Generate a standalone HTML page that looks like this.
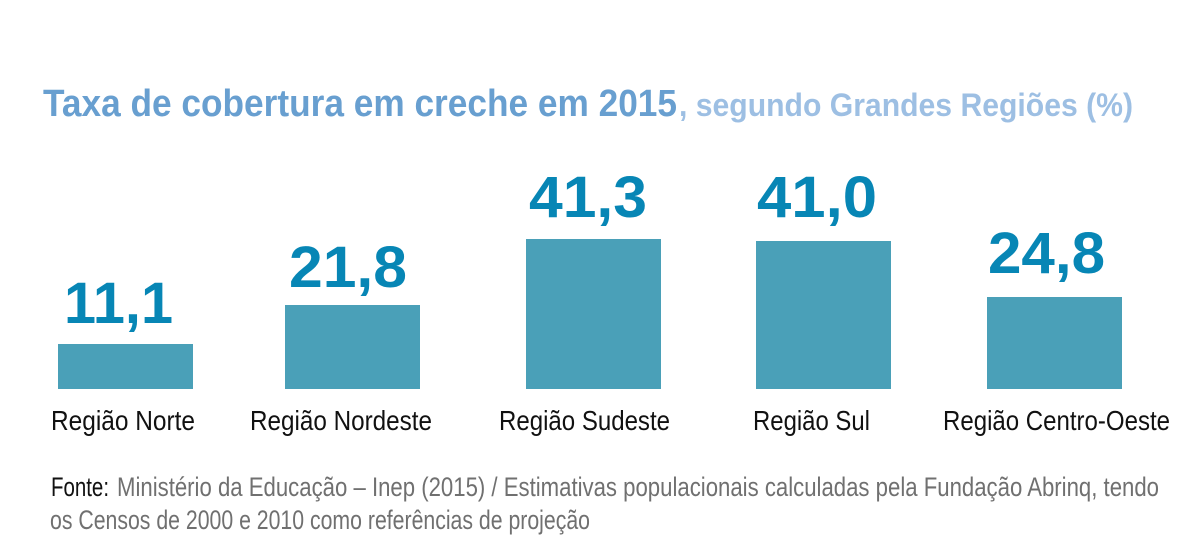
<!DOCTYPE html>
<html>
<head>
<meta charset="utf-8">
<style>
  html, body { margin: 0; padding: 0; background: #ffffff; }
  body { width: 1202px; height: 546px; overflow: hidden; }
  svg { display: block; }
  .title { font-family: "Liberation Sans", sans-serif; font-weight: bold; }
  .val { font-family: "Liberation Sans", sans-serif; font-weight: bold; fill: #0786b5; font-size: 58px; }
  .cat { font-family: "Liberation Sans Narrow", "Liberation Sans", sans-serif; font-size: 28px; fill: #111111; }
  .foot { font-family: "Liberation Sans Narrow", "Liberation Sans", sans-serif; font-size: 27px; }
</style>
</head>
<body>
<svg width="1202" height="546" viewBox="0 0 1202 546" xmlns="http://www.w3.org/2000/svg">
  <rect x="0" y="0" width="1202" height="546" fill="#ffffff"/>

  <!-- Title -->
  <text class="title" x="43" y="116" font-size="38" fill="#689fd0" textLength="634" lengthAdjust="spacingAndGlyphs">Taxa de cobertura em creche em 2015</text>
  <text class="title" x="679" y="116" font-size="32" fill="#9dbfe3" textLength="454" lengthAdjust="spacingAndGlyphs">, segundo Grandes Regiões (%)</text>

  <!-- Bars -->
  <rect x="58" y="344" width="135" height="45" fill="#4aa0b8"/>
  <rect x="285" y="305" width="135" height="84" fill="#4aa0b8"/>
  <rect x="526" y="239" width="135" height="150" fill="#4aa0b8"/>
  <rect x="756" y="241" width="135" height="148" fill="#4aa0b8"/>
  <rect x="987" y="297" width="135" height="92" fill="#4aa0b8"/>

  <!-- Values -->
  <text class="val" x="64" y="323" textLength="109" lengthAdjust="spacingAndGlyphs">11,1</text>
  <text class="val" x="289" y="287" textLength="118" lengthAdjust="spacingAndGlyphs">21,8</text>
  <text class="val" x="529" y="217" textLength="118" lengthAdjust="spacingAndGlyphs">41,3</text>
  <text class="val" x="757" y="217" textLength="120" lengthAdjust="spacingAndGlyphs">41,0</text>
  <text class="val" x="988" y="273" textLength="117" lengthAdjust="spacingAndGlyphs">24,8</text>

  <!-- Category labels -->
  <text class="cat" x="51" y="430" textLength="144" lengthAdjust="spacingAndGlyphs">Região Norte</text>
  <text class="cat" x="250" y="430" textLength="182" lengthAdjust="spacingAndGlyphs">Região Nordeste</text>
  <text class="cat" x="499" y="430" textLength="171" lengthAdjust="spacingAndGlyphs">Região Sudeste</text>
  <text class="cat" x="753" y="430" textLength="117" lengthAdjust="spacingAndGlyphs">Região Sul</text>
  <text class="cat" x="943" y="430" textLength="227" lengthAdjust="spacingAndGlyphs">Região Centro-Oeste</text>

  <!-- Footer -->
  <text class="foot" x="51" y="496" fill="#111111" textLength="58" lengthAdjust="spacingAndGlyphs">Fonte:</text>
  <text class="foot" x="117" y="496" fill="#707070" textLength="1042" lengthAdjust="spacingAndGlyphs">Ministério da Educação – Inep (2015) / Estimativas populacionais calculadas pela Fundação Abrinq, tendo</text>
  <text class="foot" x="50" y="529" fill="#707070" textLength="540" lengthAdjust="spacingAndGlyphs">os Censos de 2000 e 2010 como referências de projeção</text>
</svg>
</body>
</html>
